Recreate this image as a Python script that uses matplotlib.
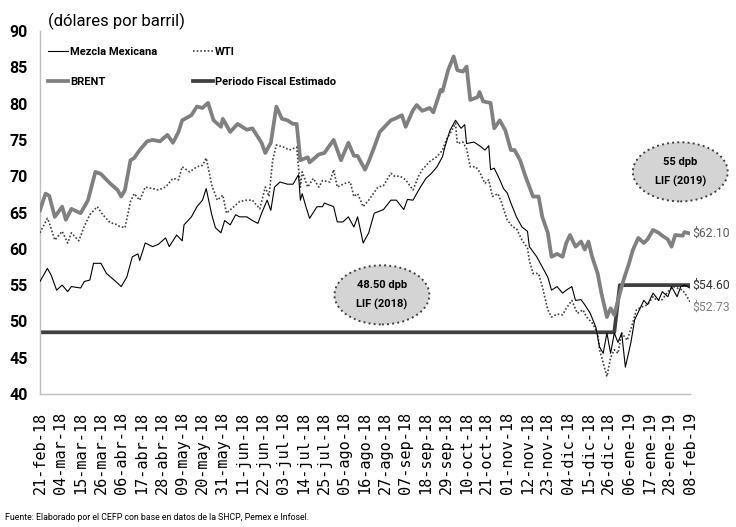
import numpy as np
import matplotlib
matplotlib.use('Agg')
import matplotlib.pyplot as plt
import matplotlib.patches as patches

# fechas: dias desde 21-feb-18
inicio = np.datetime64('2018-02-21')
meses = ['ene', 'feb', 'mar', 'abr', 'may', 'jun', 'jul', 'ago', 'sep', 'oct', 'nov', 'dic']

brent_dia = [0, 3, 5, 8, 12, 14, 17, 22, 26, 30, 33, 38, 42, 44, 46, 49, 51, 54, 58, 61,
             65, 69, 72, 75, 77, 82, 85, 88, 91, 94, 98, 99, 103, 107, 112, 115, 120, 122, 125, 128,
             131, 134, 137, 139, 141, 145, 146, 151, 154, 159, 163, 167, 170, 172, 176, 178, 181, 184, 190, 192,
             196, 198, 202, 204, 207, 211, 213, 217, 218, 221, 224, 226, 229, 231, 233, 237, 238, 240, 244, 246,
             249, 252, 255, 257, 260, 263, 267, 270, 272, 275, 277, 280, 283, 285, 287, 290, 293, 295, 297, 299,
             302, 304, 307, 309, 311, 313, 316, 319, 321, 324, 327, 329, 332, 335, 337, 340, 342, 344, 348, 349, 352]
brent = [65.3, 67.6, 67.3, 64.4, 65.8, 64.0, 65.5, 64.9, 66.7, 70.6, 70.3, 69.0, 68.1, 67.2, 68.1, 72.2, 72.5, 73.6, 74.8, 75.0,
         74.8, 75.7, 74.6, 76.1, 77.7, 78.4, 79.6, 79.4, 80.1, 77.7, 76.8, 77.9, 76.1, 77.2, 76.4, 76.6, 74.6, 73.2, 74.6, 79.6,
         77.9, 77.7, 77.2, 77.2, 72.2, 72.6, 71.9, 73.0, 73.2, 75.0, 72.2, 74.6, 72.8, 72.8, 70.9, 72.0, 74.0, 76.1, 77.7, 77.9,
         78.4, 76.8, 79.1, 79.8, 79.0, 79.4, 78.8, 81.9, 81.7, 84.6, 86.5, 84.6, 84.4, 85.1, 80.5, 80.9, 81.6, 80.3, 80.1, 76.6,
         77.7, 76.3, 73.6, 73.6, 72.2, 69.9, 67.2, 67.2, 64.4, 62.2, 58.9, 59.3, 58.9, 60.8, 61.9, 60.3, 61.0, 59.9, 61.0, 58.9,
         56.6, 53.9, 50.6, 51.8, 50.9, 52.9, 55.7, 58.0, 59.8, 61.5, 60.8, 61.3, 62.6, 62.2, 61.8, 61.3, 60.3, 61.9, 61.8, 62.3, 62.1]

mezcla_dia = [0, 4, 6, 9, 12, 15, 17, 22, 24, 27, 29, 33, 36, 41, 44, 47, 50, 53, 54, 57,
              61, 64, 68, 70, 74, 77, 78, 82, 85, 88, 90, 93, 95, 98, 100, 103, 106, 108, 112, 115,
              118, 120, 123, 125, 127, 130, 134, 137, 140, 141, 142, 144, 146, 150, 153, 154, 159, 161, 164, 167,
              170, 172, 175, 178, 181, 186, 190, 193, 197, 199, 202, 206, 209, 212, 215, 218, 219, 222, 225, 228,
              230, 231, 235, 238, 241, 243, 244, 246, 249, 251, 253, 255, 258, 261, 264, 265, 269, 272, 275, 277,
              280, 283, 285, 288, 290, 293, 295, 298, 301, 303, 305, 307, 309, 311, 313, 315, 317, 320, 322, 325,
              327, 329, 332, 335, 337, 340, 342, 345, 347, 349, 352]
mezcla = [55.5, 57.3, 56.4, 54.3, 55.0, 54.1, 54.8, 54.6, 55.5, 55.7, 58.0, 58.0, 56.6, 55.5, 54.8, 56.1, 58.9, 59.3, 58.4, 60.8,
          60.3, 60.6, 61.5, 60.3, 61.9, 61.1, 63.3, 64.4, 65.8, 66.7, 68.3, 64.7, 62.9, 62.2, 63.9, 63.3, 64.7, 64.4, 64.4, 63.9,
          63.5, 64.9, 66.7, 65.3, 68.5, 69.2, 68.9, 68.9, 70.2, 66.7, 67.6, 65.8, 64.2, 65.8, 65.8, 66.3, 65.8, 63.7, 63.7, 64.4,
          63.0, 64.4, 60.8, 62.2, 64.9, 65.4, 66.7, 66.7, 65.4, 66.8, 66.7, 68.5, 69.7, 70.4, 71.3, 72.7, 73.8, 76.3, 77.7, 76.6,
          77.1, 74.5, 74.7, 74.2, 73.6, 74.2, 70.9, 71.1, 69.5, 68.3, 67.7, 66.3, 64.4, 63.0, 62.4, 60.3, 58.9, 57.5, 56.1, 54.3,
          54.8, 53.9, 54.3, 54.8, 52.9, 53.0, 52.3, 51.1, 49.2, 46.5, 45.6, 48.4, 45.6, 48.4, 47.1, 48.4, 43.7, 47.1, 50.2, 51.8,
          52.9, 52.3, 53.9, 52.9, 54.1, 53.4, 54.8, 53.4, 54.8, 55.0, 54.6]

wti_dia = [0, 4, 5, 8, 12, 15, 17, 21, 24, 27, 31, 34, 38, 41, 43, 46, 49, 51, 54, 57,
           61, 64, 68, 72, 75, 77, 81, 85, 88, 90, 93, 96, 99, 101, 105, 108, 112, 115, 119, 122,
           124, 126, 128, 132, 135, 139, 141, 142, 145, 148, 151, 153, 157, 159, 161, 165, 168, 170, 172, 175,
           178, 183, 186, 190, 192, 195, 198, 202, 205, 207, 211, 215, 218, 220, 223, 225, 226, 229, 231, 233,
           236, 238, 241, 243, 245, 248, 250, 253, 256, 258, 261, 264, 265, 267, 270, 272, 275, 277, 280, 283,
           285, 288, 291, 294, 296, 299, 302, 303, 305, 307, 309, 311, 313, 315, 318, 321, 323, 326, 329, 332,
           334, 337, 340, 343, 346, 348, 350, 352]
wti = [62.2, 64.2, 63.6, 61.2, 62.4, 60.8, 62.2, 61.1, 63.1, 64.7, 65.8, 64.7, 63.6, 63.4, 63.1, 62.9, 66.5, 67.6, 66.7, 68.5,
       68.3, 68.1, 68.5, 69.7, 69.5, 71.3, 70.6, 71.3, 71.5, 72.5, 68.8, 66.7, 67.4, 64.9, 65.8, 66.5, 66.7, 66.7, 65.5, 68.5,
       67.2, 72.2, 74.3, 74.0, 73.6, 74.0, 68.5, 70.6, 68.5, 69.7, 68.5, 69.4, 69.2, 70.9, 68.5, 69.0, 69.2, 67.2, 67.6, 65.8,
       66.7, 68.5, 68.7, 70.4, 70.0, 70.0, 69.5, 68.1, 70.0, 70.9, 72.0, 72.7, 73.6, 75.0, 76.3, 77.3, 74.5, 74.7, 73.8, 71.3,
       71.3, 70.6, 69.0, 69.5, 67.2, 67.6, 66.3, 64.0, 63.0, 62.8, 61.2, 60.1, 58.4, 56.6, 56.6, 54.8, 51.6, 50.6, 51.0, 50.9,
       51.8, 52.9, 51.1, 51.6, 50.6, 49.8, 48.4, 46.1, 44.3, 42.4, 45.0, 46.1, 45.6, 48.4, 47.4, 49.8, 51.6, 52.0, 52.3, 53.4,
       52.9, 53.0, 54.1, 54.8, 54.5, 54.3, 53.6, 52.7]

fiscal_dia = [0, 311, 314, 352]
fiscal = [48.5, 48.5, 55.0, 55.0]

etiquetas_fin = ['$62.10', '$54.60', '$52.73']

fuente = ['Roboto', 'DejaVu Sans']

fig = plt.figure(figsize=(7.36, 5.27), dpi=100)
ax = fig.add_axes([40 / 736, 133 / 527, 650 / 736, 363 / 527])

def fechas(dias):
    return inicio + np.array(dias, dtype='timedelta64[D]')

ax.plot(fechas(brent_dia), brent, color='#808080', lw=2.7, label='BRENT', zorder=3)
ax.plot(fechas(wti_dia), wti, color='#404040', lw=1.2, ls=(0, (1, 1.2)), label='WTI', zorder=4)
ax.plot(fechas(mezcla_dia), mezcla, color='black', lw=0.8, label='Mezcla Mexicana', zorder=5)
ax.plot(fechas(fiscal_dia), fiscal, color='#404040', lw=2.7, label='Periodo Fiscal Estimado', zorder=2)

ax.set_xlim(inicio, inicio + np.timedelta64(352, 'D'))
ax.set_ylim(40, 90)
ax.set_yticks(range(40, 91, 5))
ax.set_yticklabels([str(v) for v in range(40, 91, 5)], family=fuente, fontweight='bold', fontsize=11.5)

ticks = [inicio + np.timedelta64(11 * k, 'D') for k in range(33)]
labels = []
for t in ticks:
    y, m, d = str(t).split('-')
    labels.append(f'{d}-{meses[int(m) - 1]}-{y[2:]}')
ax.set_xticks(ticks)
ax.set_xticklabels(labels, rotation=90, family='DejaVu Sans Mono', fontsize=11)
ax.tick_params(length=0)
ax.tick_params(axis='x', pad=13)
ax.tick_params(axis='y', pad=9)

for s in ['top', 'right']:
    ax.spines[s].set_visible(False)
for s in ['left', 'bottom']:
    ax.spines[s].set_color('#bfbfbf')
    ax.spines[s].set_linewidth(1.0)

# leyenda
h = {l.get_label(): l for l in ax.get_lines()}
orden = ['Mezcla Mexicana', 'BRENT', 'WTI', 'Periodo Fiscal Estimado']
ax.legend([h[k] for k in orden], orden, ncol=2, loc='upper left', bbox_to_anchor=(0.012, 0.955),
          frameon=False, borderpad=0, borderaxespad=0, handlelength=1.8, handletextpad=0.2,
          labelspacing=1.75, columnspacing=3.2, prop={'family': fuente, 'weight': 'bold', 'size': 8})

# elipses LIF
for cx, cy, t in [(0.526, 0.273, '48.50 dpb\nLIF (2018)'), (0.985, 0.612, '55 dpb\nLIF (2019)')]:
    e = patches.Ellipse((cx, cy), 0.146, 0.163, transform=ax.transAxes, clip_on=False,
                        facecolor='#d4d4d4', edgecolor='#404040', ls=':', lw=1.4, zorder=6)
    ax.add_patch(e)
    ax.text(cx, cy, t, transform=ax.transAxes, ha='center', va='center', fontsize=8,
            family=fuente, fontweight='bold', linespacing=2.0, zorder=7)

# valores finales
fin = inicio + np.timedelta64(352, 'D')
for val, txt, c in zip([62.1, 55.0, 52.0], etiquetas_fin, ['#595959', '#333333', '#7f7f7f']):
    ax.annotate(txt, (fin, val), xytext=(2, 0), textcoords='offset points', ha='left', va='center',
                fontsize=8.8, family=fuente, color=c, annotation_clip=False)

fig.text(48 / 736, 1 - 21 / 527, '(dólares por barril)', fontsize=12, family=fuente, va='center', ha='left')
fig.text(5 / 736, 1 - 517 / 527, 'Fuente: Elaborado por el CEFP con base en datos de la SHCP, Pemex e Infosel.',
         fontsize=6.3, family=fuente, va='center', ha='left')

fig.savefig('out.png', dpi=100)
